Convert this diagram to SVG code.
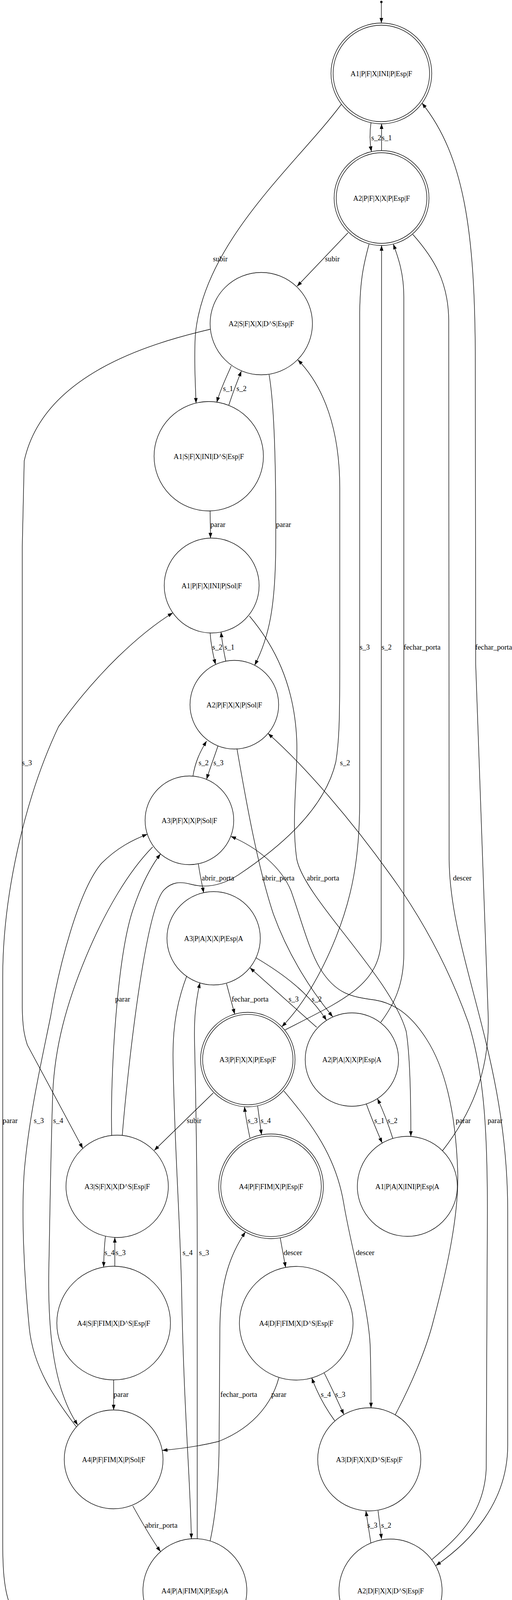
<svg xmlns="http://www.w3.org/2000/svg" width="1311" height="4563" viewBox="0 0 1311 4563">
<style>
.n circle{fill:none;stroke:#000;stroke-width:1.33}
.n text,.lb{font-family:"Liberation Serif","Times New Roman",serif;font-size:18.67px;fill:#000;text-anchor:middle}
.e path{fill:none;stroke:#000;stroke-width:1.33;marker-end:url(#arr)}
</style>
<defs>
<marker id="arr" markerUnits="userSpaceOnUse" markerWidth="14" markerHeight="10" refX="13.3" refY="5" orient="auto"><path d="M0,0.3 L13.3,5 L0,9.7 z" fill="#000"/></marker>
</defs>
<rect width="1311" height="4563" fill="#fff"/>
<g id="start"><circle cx="976.5" cy="5" r="3" fill="#000"/></g>
<g class="n" id="A1PFXINIPEspF"><circle cx="976.5" cy="188" r="129"/><circle cx="976.5" cy="188" r="123.5"/><text x="976.5" y="194.5">A1|P|F|X|INI|P|Esp|F</text></g>
<g class="n" id="A2PFXXPEspF"><circle cx="977" cy="507" r="121.5"/><circle cx="977" cy="507" r="116"/><text x="977" y="513.5">A2|P|F|X|X|P|Esp|F</text></g>
<g class="n" id="A2SFXXDSEspF"><circle cx="669" cy="828.5" r="131"/><text x="669" y="835">A2|S|F|X|X|D^S|Esp|F</text></g>
<g class="n" id="A1SFXINIDSEspF"><circle cx="534.5" cy="1168" r="140"/><text x="534.5" y="1174.5">A1|S|F|X|INI|D^S|Esp|F</text></g>
<g class="n" id="A1PFXINIPSolF"><circle cx="542" cy="1499" r="121.5"/><text x="542" y="1505.5">A1|P|F|X|INI|P|Sol|F</text></g>
<g class="n" id="A2PFXXPSolF"><circle cx="600" cy="1804" r="113.5"/><text x="600" y="1810.5">A2|P|F|X|X|P|Sol|F</text></g>
<g class="n" id="A3PFXXPSolF"><circle cx="485" cy="2100" r="113.5"/><text x="485" y="2106.5">A3|P|F|X|X|P|Sol|F</text></g>
<g class="n" id="A3PAXXPEspA"><circle cx="547" cy="2402" r="119.5"/><text x="547" y="2408.5">A3|P|A|X|X|P|Esp|A</text></g>
<g class="n" id="A3PFXXPEspF"><circle cx="634.5" cy="2712.5" r="121"/><circle cx="634.5" cy="2712.5" r="115.7"/><text x="634.5" y="2719">A3|P|F|X|X|P|Esp|F</text></g>
<g class="n" id="A2PAXXPEspA"><circle cx="901" cy="2712.5" r="119.5"/><text x="901" y="2719">A2|P|A|X|X|P|Esp|A</text></g>
<g class="n" id="A3SFXXDSEspF"><circle cx="300" cy="3037" r="131"/><text x="300" y="3043.5">A3|S|F|X|X|D^S|Esp|F</text></g>
<g class="n" id="A4PFFIMXPEspF"><circle cx="694" cy="3037" r="134"/><circle cx="694" cy="3037" r="128.7"/><text x="694" y="3043.5">A4|P|F|FIM|X|P|Esp|F</text></g>
<g class="n" id="A1PAXINIPEspA"><circle cx="1043" cy="3037" r="128"/><text x="1043" y="3043.5">A1|P|A|X|INI|P|Esp|A</text></g>
<g class="n" id="A4SFFIMXDSEspF"><circle cx="291" cy="3387" r="145.5"/><text x="291" y="3393.5">A4|S|F|FIM|X|D^S|Esp|F</text></g>
<g class="n" id="A4DFFIMXDSEspF"><circle cx="758.5" cy="3387.5" r="145.5"/><text x="758.5" y="3394">A4|D|F|FIM|X|D^S|Esp|F</text></g>
<g class="n" id="A4PFFIMXPSolF"><circle cx="291" cy="3736" r="126.5"/><text x="291" y="3742.5">A4|P|F|FIM|X|P|Sol|F</text></g>
<g class="n" id="A3DFXXDSEspF"><circle cx="945.5" cy="3736" r="132"/><text x="945.5" y="3742.5">A3|D|F|X|X|D^S|Esp|F</text></g>
<g class="n" id="A4PAFIMXPEspA"><circle cx="499" cy="4072" r="133"/><text x="499" y="4078.5">A4|P|A|FIM|X|P|Esp|A</text></g>
<g class="n" id="A2DFXXDSEspF"><circle cx="1000" cy="4072" r="132"/><text x="1000" y="4078.5">A2|D|F|X|X|D^S|Esp|F</text></g>
<g class="n" id="A1DFXINIDSEspF"><circle cx="945" cy="4416" r="140"/><text x="945" y="4422.5">A1|D|F|X|INI|D^S|Esp|F</text></g>
<g class="e" id="edges">
<path d="M976.5,8 L976.5,59"/>
<path d="M950,314 C946,340 947,365 951,388"/>
<path d="M977,385.5 L977,317"/>
<path d="M874,267 C760,420 520,620 500,860 C497,920 500,980 502,1032"/>
<path d="M1133,2946 C1200,2860 1255,2750 1250,2600 L1218,1700 L1217,900 C1215,600 1190,400 1080.5,264"/>
<path d="M891,596 L760.5,733"/>
<path d="M592,937 C580,965 565,995 555,1030"/>
<path d="M586,1037 C596,1005 606,980 618,950"/>
<path d="M538,1308 L539,1377.5"/>
<path d="M689,959 C703,1040 707,1200 706,1400 C705,1550 690,1630 652,1703"/>
<path d="M538,1620 C540,1650 545,1675 552,1701"/>
<path d="M578,1692 C573,1668 569,1645 566,1618"/>
<path d="M538,843 C380,880 110,960 62,1180 L57,1400 L57,2580 C58,2630 62,2650 70,2675 L212,2940"/>
<path d="M945,625 C930,680 922,720 921,800 L921,2050 C921,2200 900,2300 860,2400 C820,2500 770,2580 721.5,2628.5"/>
<path d="M729,2637 C880,2560 976,2520 976,2400 L977,628.5"/>
<path d="M975,2617 C1010,2570 1034,2520 1034,2440 L1034,760 C1034,700 1020,660 1007,625"/>
<path d="M1057,600 C1110,660 1148,720 1149,820 L1150,2200 C1152,2450 1300,2700 1300,3100 L1300,3700 C1300,3850 1200,3950 1116,4008"/>
<path d="M494,1987 C500,1950 512,1925 529,1897"/>
<path d="M558,1910 C548,1940 538,1965 529,1995"/>
<path d="M313,2907 C325,2760 370,2330 420,2278 C440,2258 460,2256 490,2264 C520,2272 560,2272 610,2240 C700,2180 830,2080 860,1950 C868,1900 870,1850 870,1700 L870,1250 C870,1100 830,990 762.5,921"/>
<path d="M508,2212 C512,2240 517,2262 521.5,2285.5"/>
<path d="M606.7,1916.7 C630,2050 660,2220 700,2340 C740,2450 800,2540 852,2603"/>
<path d="M638.7,1577 C700,1650 755,1750 760,1900 C763,1980 745,2100 760,2200 C780,2300 1000,2500 1040,2640 C1050,2700 1052,2800 1052,2909"/>
<path d="M286,2907 C282,2750 300,2450 340,2330 C360,2270 385,2220 411,2186"/>
<path d="M580,2518 C587,2545 594,2570 601,2596"/>
<path d="M811,2630 L640,2477.5"/>
<path d="M655.5,2452 C720,2490 790,2540 836,2612"/>
<path d="M804,4394 C600,4340 250,4250 90,4180 C20,4140 7,4080 7,3950 L7,2500 C7,2300 60,2050 150,1860 C250,1720 360,1620 442.7,1568.7"/>
<path d="M195.5,3652.6 C140,3580 85,3500 75,3400 C60,3250 55,3100 62,3000 C75,2850 110,2700 130,2600 C150,2480 200,2280 260,2210 C300,2170 340,2150 377.3,2135.6"/>
<path d="M391,2168 C330,2230 270,2330 220,2450 C170,2570 140,2680 135,2800 C130,2950 128,3100 125,3250 C122,3420 140,3560 199,3648"/>
<path d="M546,2798 L395,2945"/>
<path d="M640,2913 C634,2885 629,2860 626,2833"/>
<path d="M659.7,2831.7 C663,2855 666,2880 669.7,2905"/>
<path d="M938,2826 C950,2860 965,2895 978.5,2926"/>
<path d="M1006,2915 C995,2880 982,2845 966.4,2812.5"/>
<path d="M1012,3622 C1050,3550 1090,3460 1110,3380 C1150,3230 1175,3100 1172,3000 C1168,2880 1150,2750 1092,2660 C1060,2610 1020,2570 960,2560 C900,2552 860,2545 820,2480 C790,2430 770,2350 745,2280 C720,2220 660,2170 591,2141"/>
<path d="M1105.8,3992.4 C1180,3930 1240,3870 1245,3760 L1248,3100 C1248,2900 1240,2750 1200,2620 C1150,2480 1080,2350 1000,2240 C900,2100 780,1960 686.3,1877.7"/>
<path d="M270,3165 C267,3190 266,3215 265.4,3243.8"/>
<path d="M294,3241.5 L294,3168"/>
<path d="M478,2499 C455,2560 443,2620 443,2700 C445,2900 460,3100 465,3300 C470,3600 488,3800 490,3939"/>
<path d="M505,3939 C505,3700 504,3500 505,3300 C506,3000 500,2750 498,2660 C497,2600 502,2560 512,2516"/>
<path d="M717.6,3169 C722,3195 727,3220 731.3,3244.6"/>
<path d="M727,2793 C800,2880 860,2960 880,3080 C900,3200 945,3350 948,3450 C950,3520 950,3560 950,3604"/>
<path d="M291,3532.5 L291,3609.5"/>
<path d="M538,3945 C552,3880 560,3800 561,3700 L563,3400 C564,3280 590,3210 628.4,3153.8"/>
<path d="M714,3527 C700,3580 660,3650 560,3690 C500,3705 450,3710 415.5,3713"/>
<path d="M857,3637 C830,3600 812,3565 798.3,3527.4"/>
<path d="M830,3514.5 C848,3550 864,3585 880.4,3621"/>
<path d="M340,3855 C365,3900 388,3940 411,3972"/>
<path d="M949.6,3950 C945,3920 941,3895 937,3868"/>
<path d="M968,3867 C971,3890 974,3915 977,3940"/>
<path d="M979,4203 C976,4230 972,4255 968,4277"/>
<path d="M937,4276 C938,4250 942,4220 949,4194"/>
<g class="lb">
<text x="963.5" y="359">s_2</text>
<text x="990.5" y="359">s_1</text>
<text x="564" y="669">subir</text>
<text x="851" y="669">subir</text>
<text x="584" y="1001">s_1</text>
<text x="618.5" y="1001">s_2</text>
<text x="558" y="1349">parar</text>
<text x="726" y="1349">parar</text>
<text x="556.5" y="1663">s_2</text>
<text x="587.5" y="1663">s_1</text>
<text x="934" y="1663">s_3</text>
<text x="990" y="1663">s_2</text>
<text x="1081" y="1663">fechar_porta</text>
<text x="1264" y="1663">fechar_porta</text>
<text x="69" y="1959">s_3</text>
<text x="521.5" y="1959">s_2</text>
<text x="559.5" y="1959">s_3</text>
<text x="883.5" y="1959">s_2</text>
<text x="558" y="2254">abrir_porta</text>
<text x="712.6" y="2254">abrir_porta</text>
<text x="827" y="2254">abrir_porta</text>
<text x="1183.6" y="2254">descer</text>
<text x="314" y="2564">parar</text>
<text x="640.5" y="2564">fechar_porta</text>
<text x="752" y="2564">s_3</text>
<text x="811" y="2564">s_2</text>
<text x="26" y="2875">parar</text>
<text x="99.5" y="2875">s_3</text>
<text x="149" y="2875">s_4</text>
<text x="497" y="2875">subir</text>
<text x="647" y="2875">s_3</text>
<text x="680.5" y="2875">s_4</text>
<text x="971.5" y="2875">s_1</text>
<text x="1005" y="2875">s_2</text>
<text x="1186" y="2875">parar</text>
<text x="1267.6" y="2875">parar</text>
<text x="280.5" y="3213">s_4</text>
<text x="309" y="3213">s_3</text>
<text x="480.5" y="3213">s_4</text>
<text x="522.5" y="3213">s_3</text>
<text x="750" y="3213">descer</text>
<text x="935" y="3213">descer</text>
<text x="310" y="3576">parar</text>
<text x="611.5" y="3576">fechar_porta</text>
<text x="714" y="3576">parar</text>
<text x="834.5" y="3576">s_4</text>
<text x="871.5" y="3576">s_3</text>
<text x="413" y="3911">abrir_porta</text>
<text x="953.5" y="3911">s_3</text>
<text x="989" y="3911">s_2</text>
<text x="955" y="4247">s_2</text>
<text x="988.5" y="4247">s_1</text>
</g>
</g>
</svg>
